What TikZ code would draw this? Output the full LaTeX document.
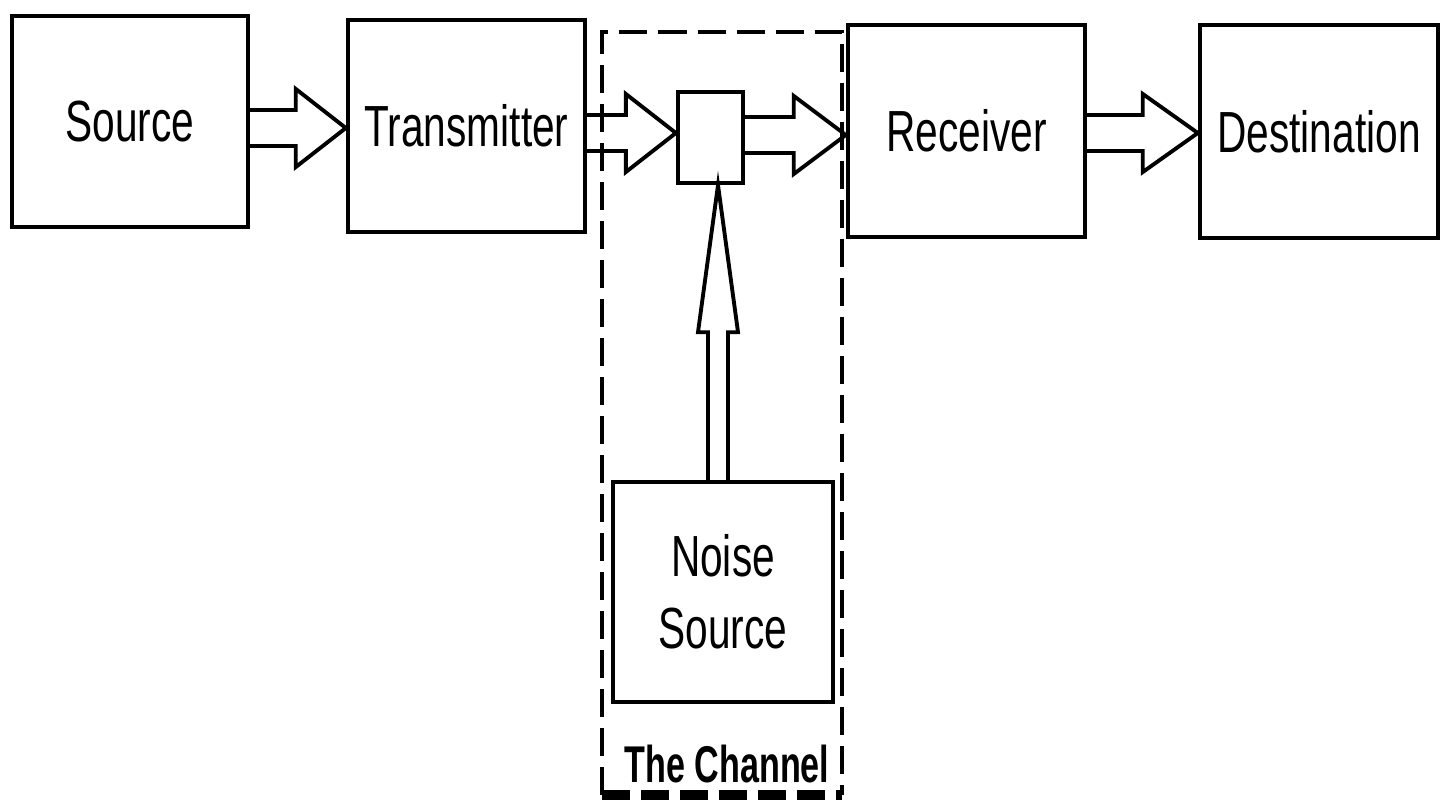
\documentclass[tikz,border=0pt]{standalone}
\usepackage{fontspec}
\newfontfamily\narrowsf{Liberation Sans}[FakeStretch=0.7]
\newfontfamily\narrowbf{Liberation Sans Bold}[FakeStretch=0.66]
\usetikzlibrary{calc}

% hollow block arrow: from, to, half shaft, half head, head length
\newcommand{\hollowarrow}[5]{%
	\coordinate (hb) at ($(#2)!#5!(#1)$);
	\draw[arr] ($(#1)!#3!90:(#2)$) -- ($(hb)!#3!90:(#2)$) -- ($(hb)!#4!90:(#2)$) -- (#2)
		-- ($(hb)!#4!-90:(#2)$) -- ($(hb)!#3!-90:(#2)$) -- ($(#1)!#3!-90:(#2)$);
}

\begin{document}
\begin{tikzpicture}[x=0.01cm,y=-0.01cm,
		block/.style={draw,line width=1.2pt,inner sep=0pt,align=center,
			font=\narrowsf\fontsize{16.5}{20.5}\selectfont},
		arr/.style={line width=1.1pt,line join=miter},
		channel/.style={line width=1.4pt,dash pattern=on 0.28cm off 0.11cm}]
	\useasboundingbox (0,0) rectangle (1449,803);
	% the channel
	\draw[channel] (602,795) -- (602,32) -- (842,32) -- (842,795);
	\draw[channel,line width=2.6pt] (602,795) -- (842,795);
	\node[font=\narrowbf\fontsize{14.7}{18}\selectfont] (chlabel) at (727,764) {The Channel};
	% blocks
	\node[block,minimum width=2.36cm,minimum height=2.11cm] (src) at (130,121.5) {Source};
	\node[block,minimum width=2.37cm,minimum height=2.12cm] (tx) at (466.5,126) {Transmitter};
	\node[block,minimum width=0.65cm,minimum height=0.91cm] (gate) at (710.5,137.5) {};
	\node[block,minimum width=2.37cm,minimum height=2.12cm] (rx) at (966.5,131) {Receiver};
	\node[block,minimum width=2.38cm,minimum height=2.13cm] (dst) at (1319,131.5) {Destination};
	\node[block,minimum width=2.20cm,minimum height=2.20cm] (noise) at (723,592) {Noise\\Source};
	% arrows
	\coordinate (s1) at (src.east |- 0,128);
	\coordinate (t1) at (tx.west |- 0,128);
	\hollowarrow{s1}{t1}{0.18cm}{0.39cm}{0.5cm}
	\coordinate (t2) at (tx.east |- 0,133);
	\coordinate (g2) at (gate.west |- 0,133);
	\hollowarrow{t2}{g2}{0.18cm}{0.39cm}{0.5cm}
	\coordinate (g3) at (gate.east |- 0,135);
	\coordinate (r3) at (rx.west |- 0,135);
	\hollowarrow{g3}{r3}{0.18cm}{0.39cm}{0.52cm}
	\coordinate (r4) at (rx.east |- 0,133);
	\coordinate (d4) at (dst.west |- 0,133);
	\hollowarrow{r4}{d4}{0.18cm}{0.39cm}{0.55cm}
	\coordinate (n5) at (noise.north -| 718,0);
	\coordinate (g5) at (gate.south -| 718,0);
	\hollowarrow{n5}{g5}{0.1cm}{0.2cm}{1.47cm}
\end{tikzpicture}
\end{document}
